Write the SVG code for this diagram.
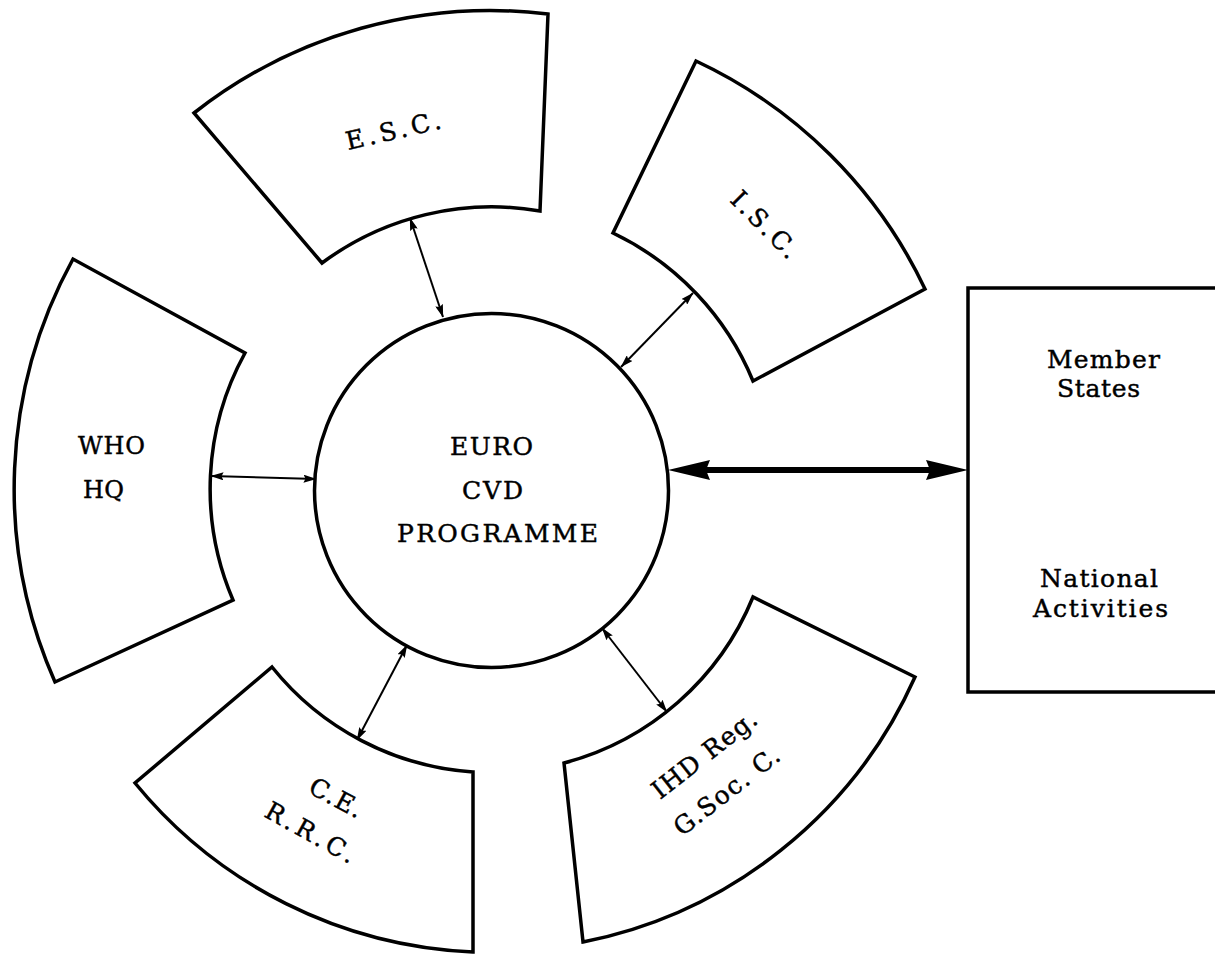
<svg xmlns="http://www.w3.org/2000/svg" width="1215" height="954" viewBox="0 0 1215 954">
<style>
  .shape { fill: #fff; stroke: #000; stroke-width: 3.5; stroke-linejoin: miter; }
  .lbl { font-family: "DejaVu Serif", "Liberation Serif", serif; font-size: 25px; fill: #000; stroke: #000; stroke-width: 0.45; }
  .sm { font-size: 24px; }
  .conn { stroke: #000; stroke-width: 2; fill: none; marker-start: url(#sa); marker-end: url(#sa); }
  .big { stroke: #000; stroke-width: 6; fill: none; marker-start: url(#ba); marker-end: url(#ba); }
</style>
<defs>
  <marker id="sa" viewBox="0 0 13 8" markerUnits="userSpaceOnUse" markerWidth="13" markerHeight="8" refX="12.5" refY="4" orient="auto-start-reverse">
    <path d="M0,0 L13,4 L0,8 L2,4 Z" fill="#000"/>
  </marker>
  <marker id="ba" viewBox="0 0 42 20" markerUnits="userSpaceOnUse" markerWidth="42" markerHeight="20" refX="4" refY="10" orient="auto-start-reverse">
    <path d="M0,0 L42,10 L0,20 L4,10 Z" fill="#000"/>
  </marker>
</defs>
<rect width="1215" height="954" fill="#fff"/>

<g id="connectors">
  <line class="conn" x1="410" y1="218" x2="443" y2="317"/>
  <line class="conn" x1="693" y1="293" x2="621" y2="367"/>
  <line class="conn" x1="211" y1="476" x2="316" y2="479"/>
  <line class="conn" x1="407" y1="645" x2="357" y2="740"/>
  <line class="conn" x1="602" y1="628" x2="667" y2="712"/>
  <line class="big" x1="706" y1="470" x2="930" y2="470"/>
</g>

<g id="euro-cvd">
  <circle class="shape" cx="491.5" cy="490.5" r="177"/>
  <text class="lbl" x="450" y="455" textLength="83" lengthAdjust="spacing">EURO</text>
  <text class="lbl" x="462" y="499" textLength="61" lengthAdjust="spacing">CVD</text>
  <text class="lbl" x="397" y="542" textLength="201" lengthAdjust="spacing">PROGRAMME</text>
</g>

<g id="esc">
  <path class="shape" d="M194,113 A480,480 0 0 1 548,14 L540,211 A284,284 0 0 0 322,263 Z"/>
  <text class="lbl" transform="translate(348,150) rotate(-13)" textLength="97" lengthAdjust="spacing">E.S.C.</text>
</g>

<g id="isc">
  <path class="shape" d="M696,61 A477,477 0 0 1 925,289 L753,381 A284,284 0 0 0 613,233 Z"/>
  <text class="lbl" transform="translate(729,201) rotate(45)" textLength="84" lengthAdjust="spacing">I.S.C.</text>
</g>

<g id="who-hq">
  <path class="shape" d="M55,682 A478,478 0 0 1 73,259 L245,353 A282,282 0 0 0 233,600 Z"/>
  <text class="lbl sm" x="78" y="454" textLength="67" lengthAdjust="spacing">WHO</text>
  <text class="lbl sm" x="83" y="498" textLength="41" lengthAdjust="spacing">HQ</text>
</g>

<g id="ce-rrc">
  <path class="shape" d="M473,952 A462,462 0 0 1 135,783 L272,667 A282,282 0 0 0 473,772 Z"/>
  <text class="lbl" transform="translate(307,792) rotate(28)" textLength="57" lengthAdjust="spacing">C.E.</text>
  <text class="lbl" transform="translate(263,816) rotate(29)" textLength="99" lengthAdjust="spacing">R.R.C.</text>
</g>

<g id="ihd">
  <path class="shape" d="M915,677 A462,462 0 0 1 583,942 L564,763 A282,282 0 0 0 753,597 Z"/>
  <text class="lbl" transform="translate(660,800) rotate(-38)" textLength="126" lengthAdjust="spacing">IHD Reg.</text>
  <text class="lbl" transform="translate(682,837) rotate(-38)" textLength="127" lengthAdjust="spacing">G.Soc. C.</text>
</g>

<g id="member-states">
  <rect class="shape" x="968" y="288" width="270" height="404"/>
  <text class="lbl" x="1047" y="368" textLength="113" lengthAdjust="spacing">Member</text>
  <text class="lbl" x="1057" y="397" textLength="83" lengthAdjust="spacing">States</text>
  <text class="lbl" x="1040" y="587" textLength="118" lengthAdjust="spacing">National</text>
  <text class="lbl" x="1033" y="617" textLength="135" lengthAdjust="spacing">Activities</text>
</g>
</svg>
